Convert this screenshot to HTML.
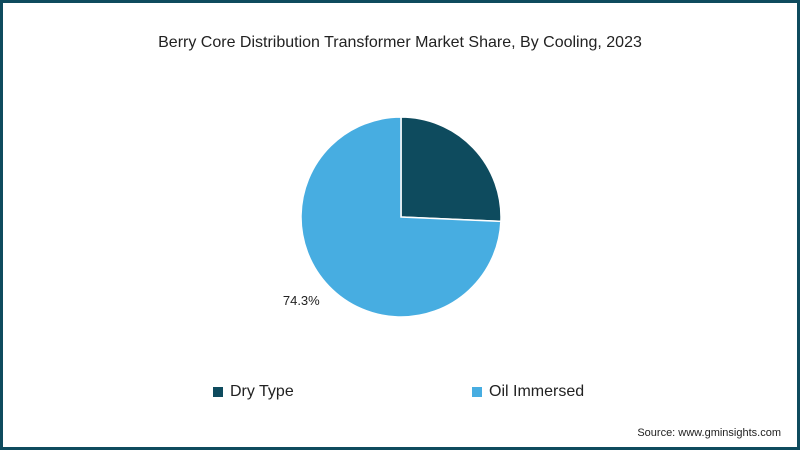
<!DOCTYPE html>
<html><head><meta charset="utf-8"><style>
html,body{margin:0;padding:0;background:#fff}
#frame{position:relative;width:800px;height:450px;box-sizing:border-box;border:3px solid #0e4b5e;background:#fff;font-family:"Liberation Sans",sans-serif;overflow:hidden}
#title{position:absolute;top:31px;left:0;width:794px;text-align:center;font-size:16px;color:#222}
.leg{position:absolute;top:380px;font-size:16px;color:#222;display:flex;align-items:center}
.sw{width:10px;height:10px;margin-right:7px}
#src{position:absolute;right:16px;top:424px;font-size:11px;color:#222}
</style></head><body>
<div id="frame">
<div id="title">Berry Core Distribution Transformer Market Share, By Cooling, 2023</div>
<svg id="pie" width="794" height="444" style="position:absolute;left:0;top:0"></svg>
<div class="leg" style="left:210px"><div class="sw" style="background:#0e4b5e"></div>Dry Type</div>
<div class="leg" style="left:469px"><div class="sw" style="background:#47ade1"></div>Oil Immersed</div>
<div id="src">Source: www.gminsights.com</div>
</div>
<script>
const categories=["Dry Type","Oil Immersed"];
const values=[25.7,74.3];
const labels=["","74.3%"];
const colors=["#0e4b5e","#47ade1"];
const svg=document.getElementById('pie');
const NS="http://www.w3.org/2000/svg";
const cx=398,cy=214,r=100;
const total=values.reduce((a,b)=>a+b,0);
let a0=0;
values.forEach((v,i)=>{
  const a1=a0+v/total*2*Math.PI;
  const x0=cx+r*Math.sin(a0),y0=cy-r*Math.cos(a0),x1=cx+r*Math.sin(a1),y1=cy-r*Math.cos(a1);
  const p=document.createElementNS(NS,'path');
  p.setAttribute('d',`M${cx},${cy}L${x0},${y0}A${r},${r} 0 ${a1-a0>Math.PI?1:0} 1 ${x1},${y1}Z`);
  p.setAttribute('fill',colors[i]);p.setAttribute('stroke','#fff');p.setAttribute('stroke-width','1.5');
  
  
  svg.appendChild(p);
  if(labels[i]){
    const am=(a0+a1)/2;
    const t=document.createElementNS(NS,'text');
    t.setAttribute('x',cx+(r+38)*Math.sin(am));t.setAttribute('y',cy-(r+30)*Math.cos(am)-2);
    t.setAttribute('text-anchor','middle');t.setAttribute('font-size','13');t.setAttribute('fill','#222');
    t.setAttribute('font-family','Liberation Sans, sans-serif');
    t.textContent=labels[i];
    
    
    svg.appendChild(t);
  }
  a0=a1;
});
</script>
</body></html>
